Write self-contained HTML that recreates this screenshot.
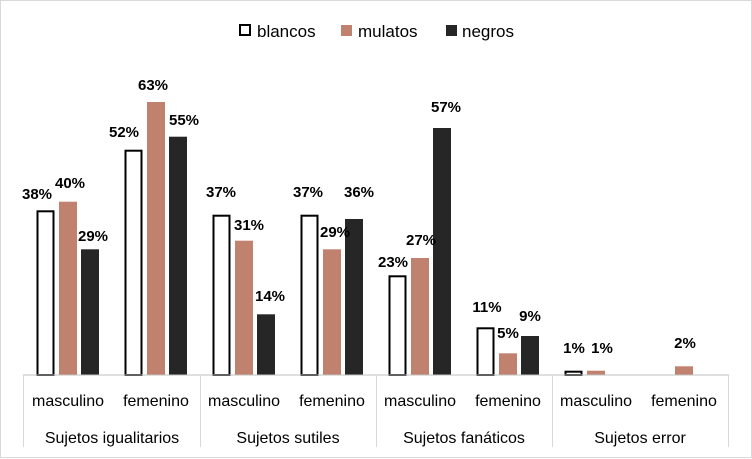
<!DOCTYPE html>
<html><head><meta charset="utf-8"><style>body{margin:0;background:#fff}svg{display:block}text{font-family:"Liberation Sans",sans-serif}</style></head><body>
<svg width="752" height="459" viewBox="0 0 752 459" xmlns="http://www.w3.org/2000/svg">
<rect x="0.5" y="0.5" width="751" height="457" fill="#fff" stroke="#d9d9d9"/>
<rect x="240" y="25" width="10" height="10" fill="#fff" stroke="#000" stroke-width="2"/>
<text x="257" y="37" font-size="17">blancos</text>
<rect x="341" y="25" width="11" height="11" fill="#c0826f"/>
<text x="358" y="37" font-size="17">mulatos</text>
<rect x="446" y="25" width="11" height="11" fill="#262626"/>
<text x="462" y="37" font-size="17">negros</text>
<g fill="#fff" stroke="#000" stroke-width="2">
<rect x="37.5" y="211.3" width="16" height="163.7"/>
<rect x="125.5" y="150.7" width="16" height="224.3"/>
<rect x="213.5" y="215.7" width="16" height="159.3"/>
<rect x="301.5" y="215.7" width="16" height="159.3"/>
<rect x="389.5" y="276.3" width="16" height="98.7"/>
<rect x="477.5" y="328.3" width="16" height="46.7"/>
<rect x="565.5" y="371.7" width="16" height="3.3"/>
</g>
<g fill="#c0826f">
<rect x="59" y="201.7" width="18" height="173.3"/>
<rect x="147" y="102" width="18" height="273"/>
<rect x="235" y="240.7" width="18" height="134.3"/>
<rect x="323" y="249.3" width="18" height="125.7"/>
<rect x="411" y="258" width="18" height="117"/>
<rect x="499" y="353.3" width="18" height="21.7"/>
<rect x="587" y="370.7" width="18" height="4.3"/>
<rect x="675" y="366.3" width="18" height="8.7"/>
</g>
<g fill="#262626">
<rect x="81" y="249.3" width="18" height="125.7"/>
<rect x="169" y="136.7" width="18" height="238.3"/>
<rect x="257" y="314.3" width="18" height="60.7"/>
<rect x="345" y="219" width="18" height="156"/>
<rect x="433" y="128" width="18" height="247"/>
<rect x="521" y="336" width="18" height="39"/>
</g>
<g font-size="15" font-weight="bold" text-anchor="middle" dominant-baseline="middle">
<text x="37" y="195">38%</text><text x="70" y="184">40%</text><text x="93" y="237">29%</text>
<text x="124" y="133">52%</text><text x="153" y="86">63%</text><text x="184" y="121">55%</text>
<text x="221" y="193">37%</text><text x="249" y="226">31%</text><text x="270" y="297">14%</text>
<text x="308" y="193">37%</text><text x="335" y="233">29%</text><text x="359" y="193">36%</text>
<text x="393" y="263">23%</text><text x="421" y="241">27%</text><text x="446" y="108">57%</text>
<text x="487" y="308">11%</text><text x="508" y="334">5%</text><text x="530" y="317">9%</text>
<text x="574" y="349">1%</text><text x="602" y="349">1%</text><text x="685" y="344">2%</text>
</g>
<line x1="23" y1="375" x2="729" y2="375" stroke="#bfbfbf"/>
<g stroke="#d9d9d9">
<line x1="23.5" y1="375" x2="23.5" y2="447"/><line x1="200.5" y1="375" x2="200.5" y2="447"/>
<line x1="376.5" y1="375" x2="376.5" y2="447"/><line x1="552.5" y1="375" x2="552.5" y2="447"/>
<line x1="728.5" y1="375" x2="728.5" y2="447"/>
</g>
<g font-size="16" text-anchor="middle">
<text x="68" y="406">masculino</text><text x="156" y="406">femenino</text>
<text x="244" y="406">masculino</text><text x="332" y="406">femenino</text>
<text x="420" y="406">masculino</text><text x="508" y="406">femenino</text>
<text x="596" y="406">masculino</text><text x="684" y="406">femenino</text>
<text x="112" y="443">Sujetos igualitarios</text><text x="288" y="443">Sujetos sutiles</text>
<text x="464" y="443">Sujetos fanáticos</text><text x="640" y="443">Sujetos error</text>
</g>
</svg>
</body></html>
